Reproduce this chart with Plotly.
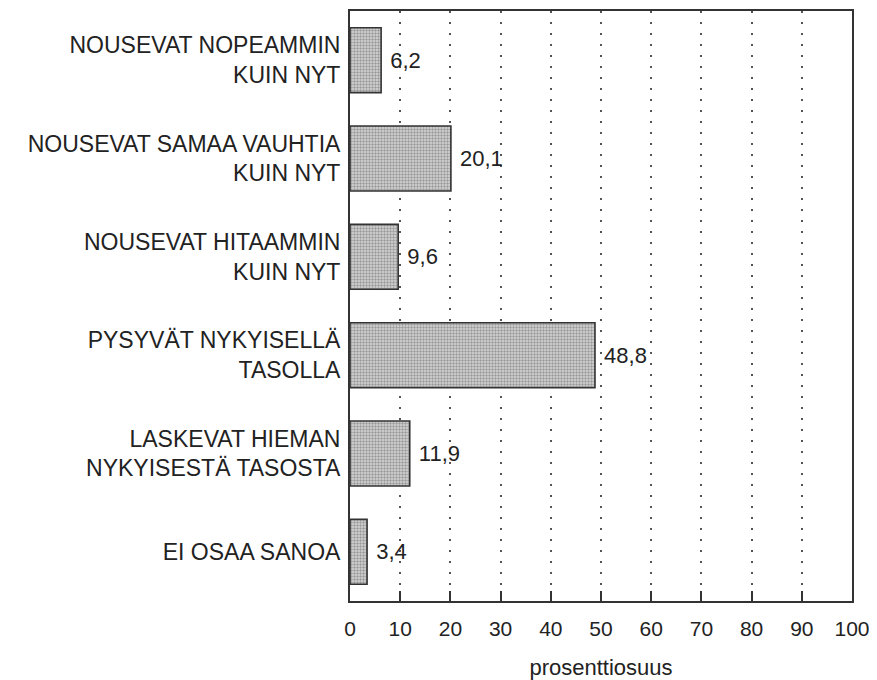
import plotly.graph_objects as go

categories = [
    "NOUSEVAT NOPEAMMIN<br>KUIN NYT",
    "NOUSEVAT SAMAA VAUHTIA<br>KUIN NYT",
    "NOUSEVAT HITAAMMIN<br>KUIN NYT",
    "PYSYVÄT NYKYISELLÄ<br>TASOLLA",
    "LASKEVAT HIEMAN<br>NYKYISESTÄ TASOSTA",
    "EI OSAA SANOA",
]
values = [6.2, 20.1, 9.6, 48.8, 11.9, 3.4]
x_ticks = [0, 10, 20, 30, 40, 50, 60, 70, 80, 90, 100]

_FONT = "Liberation Sans, Arial, Helvetica, sans-serif"
_INK = "#333333"

fig = go.Figure()
fig.add_trace(go.Bar(
    x=values, y=categories, orientation="h",
    marker=dict(color="#c8c8c8",
                line=dict(color=_INK, width=1.6),
                pattern=dict(shape=".", size=3, solidity=0.5,
                             fgcolor="#5c5c5c", bgcolor="#d8d8d8")),
    text=values, texttemplate=" %{x:.1f}", textposition="outside",
    textfont=dict(size=22, color="#222222", family=_FONT),
    cliponaxis=False,
))

# page body has an 8px margin, so the figure is sized 8px smaller
fig.update_layout(
    template="plotly_white",
    width=869, height=672,
    margin=dict(l=342, r=25, t=1, b=77),
    font=dict(family=_FONT, size=22, color="#222222"),
    separators=", ",
    showlegend=False,
    bargap=0.34,
    plot_bgcolor="white", paper_bgcolor="white",
    xaxis=dict(range=[0, 100], tickvals=x_ticks, ticks="inside",
               ticklen=10, tickwidth=1.5, tickcolor=_INK,
               showline=True, linecolor=_INK, linewidth=2, mirror=True,
               showgrid=True, gridcolor="#555555", gridwidth=1.5,
               griddash="2px,9px", zeroline=False,
               tickfont=dict(size=21), ticklabelstandoff=8,
               title=dict(text="prosenttiosuus", font=dict(size=22),
                          standoff=23)),
    yaxis=dict(autorange="reversed", ticks="", showgrid=False,
               showline=True, linecolor=_INK, linewidth=2, mirror=True,
               tickfont=dict(size=23), ticklabelstandoff=3),
)

fig.write_html("out.html")
